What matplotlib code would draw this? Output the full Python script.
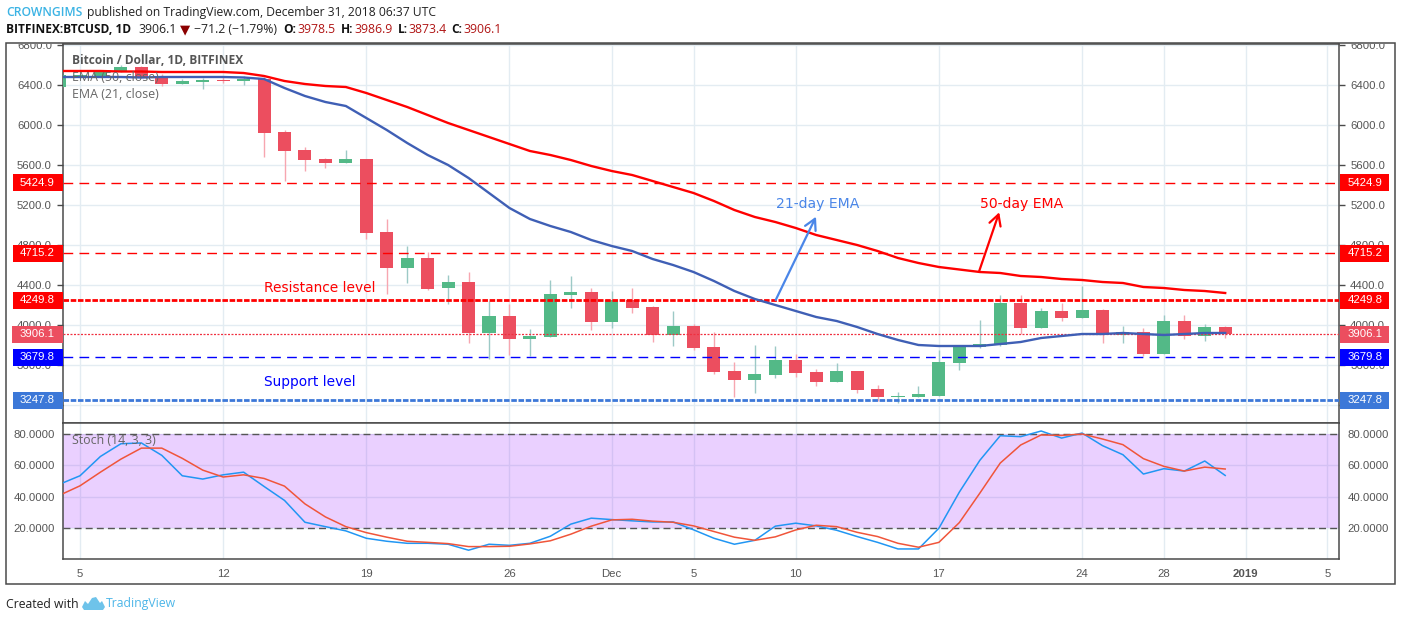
import numpy as np
import matplotlib
matplotlib.use("Agg")
import matplotlib.pyplot as plt
from matplotlib.patches import Rectangle, Polygon
from matplotlib.transforms import Bbox

W, H = 1401, 621

# day index, 0 is 5 Nov 2018
days = np.arange(-1, 57)

opens = [6380, 6480, 6480, 6530, 6580, 6480, 6410, 6430, 6450, 6440, 6460, 5930, 5750, 5660, 5620,
         5660, 4930, 4570, 4670, 4370, 4430, 3920, 4090, 3860, 3880, 4300, 4330, 4030, 4250, 4180,
         3900, 3990, 3780, 3540, 3450, 3500, 3650, 3530, 3430, 3540, 3360, 3280, 3280, 3290, 3620,
         3780, 3800, 4220, 3970, 4140, 4070, 4150, 3900, 3930, 3710, 4040, 3890, 3978.5]
highs = [6500, 6510, 6540, 6600, 6590, 6510, 6460, 6470, 6490, 6490, 6480, 5950, 5780, 5670, 5750,
         5660, 5060, 4790, 4730, 4500, 4530, 4240, 4210, 3960, 4450, 4490, 4370, 4340, 4370, 4190,
         4140, 4010, 3930, 3630, 3800, 3790, 3710, 3560, 3620, 3540, 3400, 3330, 3390, 3750, 3790,
         4050, 4300, 4300, 4170, 4220, 4390, 4160, 3990, 3970, 4100, 4100, 4010, 3986.9]
lows = [6380, 6470, 6480, 6530, 6480, 6390, 6410, 6360, 6420, 6400, 5683, 5440, 5540, 5570, 5620,
        4860, 4313, 4420, 4350, 4210, 3820, 3660, 3700, 3690, 3880, 4170, 3950, 3970, 4120, 3830,
        3790, 3750, 3513, 3280, 3320, 3470, 3480, 3390, 3430, 3320, 3240, 3220, 3280, 3290, 3550,
        3770, 3790, 3910, 3970, 4040, 4070, 3820, 3820, 3690, 3710, 3860, 3840, 3873.4]
closes = [6500, 6500, 6530, 6580, 6480, 6410, 6440, 6450, 6440, 6460, 5923, 5743, 5650, 5620, 5660,
          4923, 4570, 4670, 4360, 4430, 3920, 4090, 3860, 3890, 4310, 4330, 4030, 4250, 4170, 3900,
          3990, 3770, 3530, 3450, 3510, 3650, 3520, 3430, 3540, 3350, 3280, 3290, 3310, 3630, 3790,
          3810, 4220, 3970, 4140, 4070, 4150, 3900, 3930, 3710, 4040, 3890, 3980, 3906.1]

ema21 = [6480, 6480, 6480, 6480, 6475, 6480, 6480, 6480, 6480, 6475, 6460, 6370, 6290, 6230, 6190,
         6070, 5950, 5820, 5700, 5600, 5470, 5320, 5170, 5060, 4990, 4930, 4850, 4790, 4740, 4660,
         4600, 4530, 4440, 4340, 4260, 4200, 4140, 4080, 4040, 3980, 3910, 3850, 3800, 3790, 3790,
         3790, 3810, 3830, 3870, 3890, 3910, 3910, 3920, 3910, 3900, 3910, 3920, 3920]
ema50 = [6540, 6540, 6540, 6535, 6535, 6530, 6530, 6530, 6530, 6520, 6490, 6440, 6410, 6390, 6380,
         6320, 6250, 6180, 6100, 6020, 5950, 5880, 5810, 5740, 5700, 5650, 5590, 5540, 5500, 5440,
         5380, 5320, 5240, 5150, 5080, 5030, 4970, 4900, 4850, 4800, 4740, 4670, 4620, 4580, 4555,
         4530, 4520, 4490, 4480, 4460, 4450, 4430, 4420, 4380, 4370, 4350, 4340, 4320]

stoch_k = [48, 53.4, 65.7, 73.8, 74.3, 66.4, 53.4, 51.3, 54, 55.7, 46.6, 37.7, 23.8, 21, 18.3,
           13.6, 11.7, 10.4, 10.4, 9.8, 6, 9.8, 9.1, 10.4, 14.9, 22.6, 26.4, 25.5, 24.7, 24,
           24, 19, 13.6, 9.8, 12.3, 21.3, 23.2, 21.5, 18.7, 14.7, 11, 6.8, 6.8, 20, 43,
           63.2, 78.9, 78.3, 81.9, 77.4, 80.6, 72.6, 66.8, 54.5, 57.9, 56.4, 62.8, 53.6]
stoch_d = [41, 47, 55.7, 64, 71, 71, 64.5, 57, 52.6, 54, 51.7, 46.8, 35.5, 27.2, 21,
           17.2, 14.3, 11.7, 11, 10.2, 8.3, 8.3, 8.5, 10, 12, 16.2, 21.3, 25.3, 25.7, 24.5,
           23.8, 21.5, 17.9, 14.3, 12.3, 14.5, 18.9, 21.9, 21, 17.4, 14.7, 10.4, 7.9, 11, 23.6,
           42.3, 61.5, 73, 79.4, 79.1, 80, 76.8, 73.2, 64.3, 59.4, 56.4, 58.9, 57.7]

tick_days = [0, 7, 14, 21, 26, 30, 35, 42, 49, 53, 57, 61]
tick_labels = ["5", "12", "19", "26", "Dec", "5", "10", "17", "24", "28", "2019", "5"]
price_ticks = np.arange(3200, 6801, 400)
stoch_ticks = [20, 40, 60, 80]
levels = [5424.9, 4715.2, 4249.8, 3906.1, 3679.8, 3247.8]
level_colors = ["#ff0000", "#ff0000", "#ff0000", "#ec4e5f", "#0000ff", "#3c78d8"]

RED = "#ec4e5f"
GREEN = "#53b987"
RED_WICK = "#f7a6b0"
GREEN_WICK = "#9cc9c6"
GRID = "#e3ecf2"
FRAME = "#4a4a4a"
TICK = "#555555"
FONT = "Liberation Sans"
HEAD = "Open Sans"


def axes_px(x0, y0, x1, y1):
    return fig.add_axes([x0 / W, 1 - y1 / H, (x1 - x0) / W, (y1 - y0) / H])


def ptext(x, y, s, **kw):
    kw.setdefault("va", "center")
    kw.setdefault("family", HEAD)
    kw.setdefault("zorder", 6)
    return fig.text(x / W, 1 - y / H, s, **kw)


def prect(x0, y0, x1, y1, **kw):
    fig.add_artist(Rectangle((x0 / W, 1 - y1 / H), (x1 - x0) / W, (y1 - y0) / H,
                             transform=fig.transFigure, **kw))


fig = plt.figure(figsize=(W / 100, H / 100), dpi=100, facecolor="white")

xlim = ((63 - 80) / 20.45, (1339 - 80) / 20.45)
ax = axes_px(63, 44, 1339, 423)
ax2 = axes_px(63, 423, 1339, 559)

# price panel
ax.set_xlim(xlim)
ax.set_ylim(3020, 6810)
ax.set_axisbelow(True)
ax.grid(True, color=GRID, lw=1.0)
ax.set_xticks(tick_days)
ax.set_yticks(price_ticks)
ax.set_yticklabels([f"{p:.1f}" for p in price_ticks])
ax.tick_params(axis="x", length=0, labelbottom=False)
ax.tick_params(axis="y", left=True, right=True, labelleft=True, labelright=True, length=4, width=1,
               color=FRAME, labelcolor=TICK, labelsize=8.2, pad=4, labelfontfamily=FONT)

opens_a, highs_a, lows_a, closes_a = map(np.array, (opens, highs, lows, closes))
up = closes_a >= opens_a
ax.vlines(days[up], lows_a[up], highs_a[up], color=GREEN_WICK, lw=1, zorder=2)
ax.vlines(days[~up], lows_a[~up], highs_a[~up], color=RED_WICK, lw=1, zorder=2)
ax.bar(days[up], (closes_a - opens_a)[up], bottom=opens_a[up], width=0.64, color=GREEN, zorder=3)
ax.bar(days[~up], (closes_a - opens_a)[~up], bottom=opens_a[~up], width=0.64, color=RED, zorder=3)

ax.plot(days, ema21, color="#3f5fb5", lw=1.7, zorder=4)
ax.plot(days, ema50, color="#ff0000", lw=1.7, zorder=4)

ax.axhline(levels[0], color="#ff0000", lw=1, dashes=(7, 4.5), zorder=3.5)
ax.axhline(levels[1], color="#ff0000", lw=1, dashes=(7, 4.5), zorder=3.5)
ax.axhline(levels[2], color="#ff0000", lw=2, dashes=(2, 0.6), zorder=3.5)
ax.axhline(levels[3], color="#f03040", lw=0.9, dashes=(1.6, 1.2), zorder=3.5)
ax.axhline(levels[4], color="#0000ff", lw=1, dashes=(7, 4.5), zorder=3.5)
ax.axhline(levels[5], color="#3c78d8", lw=2, dashes=(2, 0.6), zorder=3.5)

ax.annotate("", xy=(35.99, 5083), xytext=(34.02, 4250),
            arrowprops=dict(arrowstyle="->,head_length=0.55,head_width=0.3", color="#4a86e8", lw=1.6,
                            shrinkA=0, shrinkB=0, mutation_scale=14), zorder=5)
ax.annotate("", xy=(44.95, 5127), xytext=(43.96, 4533),
            arrowprops=dict(arrowstyle="->,head_length=0.55,head_width=0.3", color="#ff0000", lw=1.6,
                            shrinkA=0, shrinkB=0, mutation_scale=14), zorder=5)

# stoch panel
ax2.set_xlim(xlim)
ax2.set_ylim(0.4, 87)
ax2.set_axisbelow(True)
ax2.grid(True, color=GRID, lw=1.0)
ax2.set_xticks(tick_days)
ax2.set_xticklabels(tick_labels)
ax2.set_yticks(stoch_ticks)
ax2.set_yticklabels([f"{v:.4f}" for v in stoch_ticks])
ax2.tick_params(axis="x", length=0, labelcolor=TICK, labelsize=8.2, pad=7, labelfontfamily=FONT)
ax2.tick_params(axis="y", length=0, left=False, right=False, labelleft=True, labelright=True,
                labelcolor=TICK, labelsize=8.2, pad=6, labelfontfamily=FONT)
ax2.get_xticklabels()[tick_labels.index("2019")].set_fontweight("bold")
ax2.axhspan(20, 80, color="#9915ff", alpha=0.2, lw=0, zorder=1.7)
ax2.axhline(20, color="#555555", lw=1, dashes=(5, 3), zorder=2)
ax2.axhline(80, color="#555555", lw=1, dashes=(5, 3), zorder=2)
ax2.plot(days, stoch_k, color="#2196f3", lw=1.1, zorder=3)
ax2.plot(days, stoch_d, color="#f0553a", lw=1.1, zorder=3)

for a in (ax, ax2):
    for s in a.spines.values():
        s.set_color(FRAME)
        s.set_linewidth(1.1)

# the top price labels are cut by the pane edge
clip = Bbox.from_extents(0, 0, W, H - 44)
for t in ax.yaxis.get_major_ticks():
    for lab in (t.label1, t.label2):
        lab.set_clip_box(clip)
        lab.set_clip_on(True)

prect(6, 43, 1395, 584, fill=False, edgecolor=FRAME, lw=1.1, zorder=1)

# price tags on both scales
for lev, col in zip(levels, level_colors):
    yp = H - ax.transData.transform((0, lev))[1]
    x_left = 12 if lev == levels[3] else 13
    prect(x_left, yp - 8.5, 63, yp + 8.5, facecolor=col, edgecolor="none", zorder=5)
    prect(1339.5, yp - 8.5, 1389, yp + 8.5, facecolor=col, edgecolor="none", zorder=5)
    ptext(54.5, yp, f"{lev:.1f}", color="white", ha="right", family=FONT, fontsize=8.2)
    ptext(1347.5, yp, f"{lev:.1f}", color="white", ha="left", family=FONT, fontsize=8.2)

# pane legends
ptext(72, 60.5, "Bitcoin / Dollar, 1D, BITFINEX", color="#555555", fontweight="bold", fontsize=8.6, family=HEAD)
ptext(72, 77.5, "EMA (50, close)", color="#666666", fontsize=8.9)
ptext(72, 94.5, "EMA (21, close)", color="#666666", fontsize=8.9)
ptext(72, 440.5, "Stoch (14, 3, 3)", color="#666666", fontsize=8.9)

# drawn labels
ptext(264, 288, "Resistance level", color="#ff0000", family="DejaVu Sans", fontsize=9.9)
ptext(264, 382, "Support level", color="#0000ff", family="DejaVu Sans", fontsize=9.9)
ptext(776, 204, "21-day EMA", color="#4a86e8", family="DejaVu Sans", fontsize=10.1)
ptext(980, 204, "50-day EMA", color="#ff0000", family="DejaVu Sans", fontsize=10.1)

# header
ptext(6, 12.5, "CROWNGIMS", color="#3bb3e4", fontweight="semibold", fontsize=8.75)
ptext(87, 12.5, "published on TradingView.com, December 31, 2018 06:37 UTC", color="#222222", fontsize=8.75)
ptext(6, 29.5, "BITFINEX:BTCUSD, 1D", color="#111111", fontweight="bold", fontsize=8.6)
ptext(138, 29.5, "3906.1", color="#222222", fontsize=8.85)
ptext(180, 30, "\u25bc", color="#8b0000", family="DejaVu Sans", fontsize=9.5)
ptext(194, 29.5, "\u221271.2 (\u22121.79%)", color="#222222", fontsize=8.85)
for xl, lab, xv, val in [(283, "O:", 297, "3978.5"), (341, "H:", 354, "3986.9"),
                         (398, "L:", 408, "3873.4"), (451, "C:", 463, "3906.1")]:
    ptext(xl, 29.5, lab, color="#111111", fontweight="bold", fontsize=8.6)
    ptext(xv, 29.5, val, color="#b01515", fontsize=8.85)

# footer
ptext(6, 604, "Created with", color="#222222", fontsize=8.8)
ptext(106, 604, "TradingView", color="#4db6e8", fontsize=8.8)
logo = [(82, 607), (85, 601), (88, 604), (92, 598), (96, 597), (100, 603), (102, 601), (105, 607),
        (103, 610), (84, 610)]
fig.add_artist(Polygon([(x / W, 1 - y / H) for x, y in logo], closed=True, transform=fig.transFigure,
                       facecolor="#6ec3ea", edgecolor="none", zorder=6))

fig.savefig("out.png", dpi=100, facecolor="white")
